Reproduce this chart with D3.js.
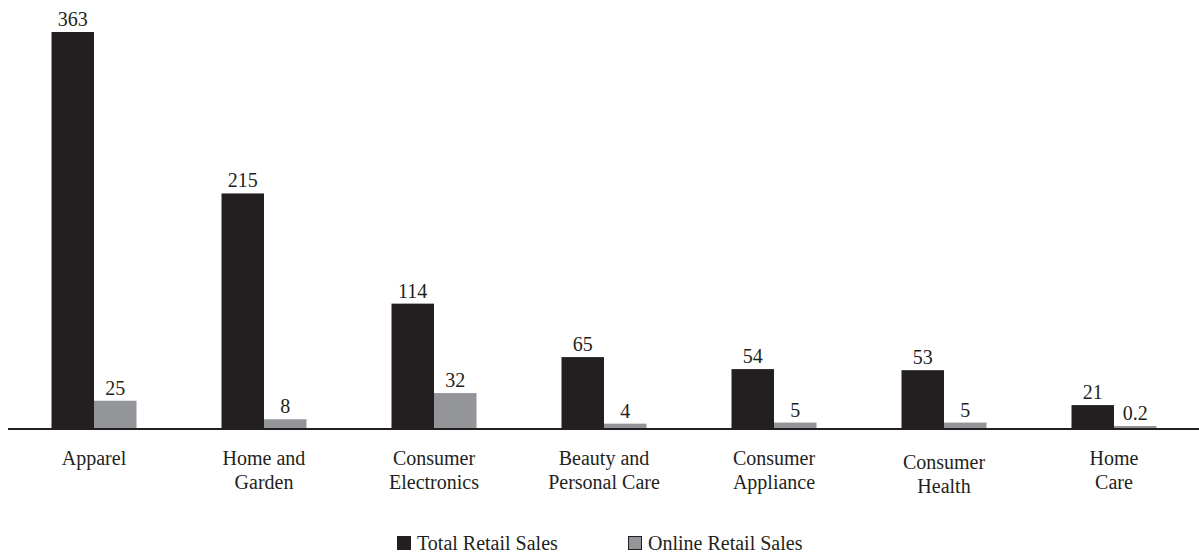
<!DOCTYPE html>
<html>
<head>
<meta charset="utf-8">
<script src="https://cdn.jsdelivr.net/npm/d3@7"></script>
<style>
  body { margin: 0; background: #fff; }
  text { font-family: "Liberation Serif", "Times New Roman", serif; fill: #231f20; }
</style>
</head>
<body>
<div id="vis"></div>
<script>
const categories = ["Apparel", "Home and Garden", "Consumer Electronics", "Beauty and Personal Care",
                    "Consumer Appliance", "Consumer Health", "Home Care"];
const labelLines = [["Apparel"], ["Home and", "Garden"], ["Consumer", "Electronics"], ["Beauty and", "Personal Care"],
                    ["Consumer", "Appliance"], ["Consumer", "Health"], ["Home", "Care"]];
const totalSales = [363, 215, 114, 65, 54, 53, 21];
const onlineSales = [25, 8, 32, 4, 5, 5, 0.2];
const seriesNames = ["Total Retail Sales", "Online Retail Sales"];
const colors = ["#231f20", "#939598"];

const width = 1199, height = 553;
const svg = d3.select("#vis").append("svg")
  .attr("width", width)
  .attr("height", height);

const x0 = d3.scaleBand().domain(categories).range([9, 1199]).paddingInner(0.5).paddingOuter(0.25);
const x1 = d3.scaleBand().domain([0, 1]).range([0, x0.bandwidth()]);
const y = d3.scaleLinear().domain([0, 363]).range([428, 32]);

const rows = categories.map((c, i) => ({ cat: c, vals: [totalSales[i], onlineSales[i]] }));

const groups = svg.selectAll("g.cat").data(rows).enter().append("g")
  .attr("class", "cat")
  .attr("transform", d => `translate(${x0(d.cat)},0)`);

groups.selectAll("rect").data(d => d.vals).enter().append("rect")
  .attr("x", (d, i) => x1(i))
  .attr("width", x1.bandwidth())
  .attr("y", d => Math.min(y(d), y(0) - 2))
  .attr("height", d => Math.max(y(0) - y(d), 2))
  .attr("fill", (d, i) => colors[i]);

groups.selectAll("text.val").data(d => d.vals).enter().append("text")
  .attr("class", "val")
  .attr("x", (d, i) => x1(i) + x1.bandwidth() / 2)
  .attr("y", d => Math.min(y(d), y(0) - 2) - 6)
  .attr("text-anchor", "middle")
  .style("font-size", "20px")
  .text(d => d);

// baseline
svg.append("line")
  .attr("x1", 8).attr("x2", width)
  .attr("y1", y(0) + 1).attr("y2", y(0) + 1)
  .attr("stroke", "#231f20")
  .attr("stroke-width", 2);

// category labels
categories.forEach((c, i) => {
  const cx = x0(c) + x0.bandwidth() / 2;
  const t = svg.append("text")
    .attr("x", cx)
    .attr("y", c === "Consumer Health" ? 469 : 465)
    .attr("text-anchor", "middle")
    .style("font-size", "20px");
  labelLines[i].forEach((line, j) => {
    t.append("tspan")
      .attr("x", cx)
      .attr("dy", j === 0 ? 0 : 24)
      .text(line);
  });
});

// legend
const legendX = [397, 628];
seriesNames.forEach((s, i) => {
  svg.append("rect")
    .attr("x", legendX[i] + 0.5).attr("y", 536.5)
    .attr("width", 13).attr("height", 13)
    .attr("fill", colors[i])
    .attr("stroke", "#231f20")
    .attr("stroke-width", 1);
  svg.append("text")
    .attr("x", legendX[i] + 20)
    .attr("y", 550)
    .style("font-size", "20px")
    .text(s);
});
</script>
</body>
</html>
